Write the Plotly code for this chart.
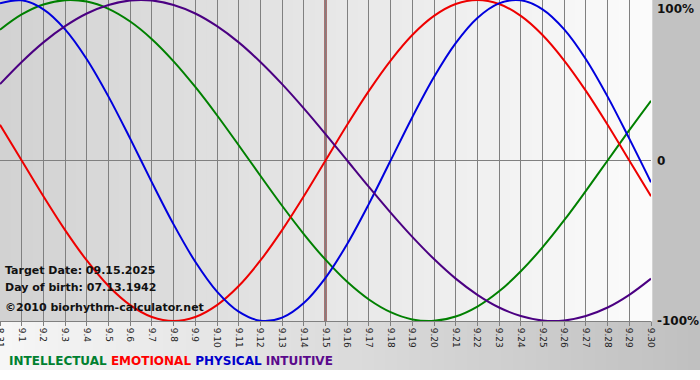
import plotly.graph_objects as go

# ---------------- data ----------------
day_labels = ["8.31"] + [f"9.{d}" for d in range(1, 31)]
target_label = "9.15"
target_date_text = "Target Date: 09.15.2025"
birth_date_text = "Day of birth: 07.13.1942"
copyright_text = "©2010 biorhythm-calculator.net"

intellectual = [0.815, 0.910, 0.972, 0.999, 0.990, 0.945, 0.866, 0.756, 0.618, 0.458,
                0.282, 0.095, -0.095, -0.282, -0.458, -0.618, -0.756, -0.866, -0.945, -0.990,
                -0.999, -0.972, -0.910, -0.815, -0.690, -0.541, -0.372, -0.189, 0.0, 0.189, 0.372]
emotional = [0.223, 0.0, -0.223, -0.434, -0.623, -0.782, -0.901, -0.975, -1.0, -0.975,
             -0.901, -0.782, -0.623, -0.434, -0.223, 0.0, 0.223, 0.434, 0.623, 0.782,
             0.901, 0.975, 1.0, 0.975, 0.901, 0.782, 0.623, 0.434, 0.223, 0.0, -0.223]
physical = [0.979, 0.998, 0.942, 0.817, 0.631, 0.398, 0.136, -0.136, -0.398, -0.631,
            -0.817, -0.942, -0.998, -0.979, -0.888, -0.731, -0.520, -0.270, 0.0, 0.270,
            0.520, 0.731, 0.888, 0.979, 0.998, 0.942, 0.817, 0.631, 0.398, 0.136, -0.136]
intuitive = [0.476, 0.614, 0.736, 0.837, 0.916, 0.969, 0.997, 0.997, 0.969, 0.916,
             0.837, 0.736, 0.614, 0.476, 0.325, 0.165, 0.0, -0.165, -0.325, -0.476,
             -0.614, -0.736, -0.837, -0.916, -0.969, -0.997, -0.997, -0.969, -0.916, -0.837, -0.736]

series_names = ["INTELLECTUAL", "EMOTIONAL", "PHYSICAL", "INTUITIVE"]
y_tick_vals = [1, 0, -1]
y_tick_text = ["100%", "0", "-100%"]

# ---------------- styles ----------------
line_colors = {"INTELLECTUAL": "#008000", "EMOTIONAL": "#ee0000",
               "PHYSICAL": "#0000dd", "INTUITIVE": "#4b0082"}
label_colors = {"INTELLECTUAL": "#008030", "EMOTIONAL": "#ff0000",
                "PHYSICAL": "#0000cc", "INTUITIVE": "#5a0a8c"}

W, H = 700, 380
ML, MR, MT, MB = 0, 49, 0, 59
PW, PH = W - ML - MR, H - MT - MB
FONT = "DejaVu Sans"

x = list(range(len(day_labels)))
values = {"INTELLECTUAL": intellectual, "EMOTIONAL": emotional,
          "PHYSICAL": physical, "INTUITIVE": intuitive}

fig = go.Figure()
for name in series_names:
    fig.add_trace(go.Scatter(
        x=x, y=values[name], mode="lines", name=name,
        line=dict(color=line_colors[name], width=2, shape="spline", smoothing=1.0),
        hoverinfo="skip", showlegend=False, cliponaxis=False))


def mix(c1, c2, t):
    return "#%02x%02x%02x" % tuple(round(a + (b - a) * t) for a, b in zip(c1, c2))


shapes = []
# plot area gradient (left gray -> right white)
N = 60
for i in range(N):
    t = i / (N - 1)
    shapes.append(dict(type="rect", xref="paper", yref="paper",
                       x0=i / N, x1=(i + 1) / N + 0.002, y0=0, y1=1,
                       fillcolor=mix((0xd2, 0xd2, 0xd2), (0xfb, 0xfb, 0xfb), t),
                       line=dict(width=0), layer="below"))
# bottom strip gradient (white -> gray)
yb0 = -(H - MT - PH - 10) / PH
for i in range(N):
    t = i / (N - 1)
    x0 = i / N * W / PW
    x1 = (i + 1) / N * W / PW + 0.002
    shapes.append(dict(type="rect", xref="paper", yref="paper",
                       x0=x0, x1=x1, y0=yb0, y1=0,
                       fillcolor=mix((0xf6, 0xf6, 0xf6), (0xc0, 0xc0, 0xc0), t),
                       line=dict(width=0), layer="below"))
shapes.append(dict(type="rect", xref="paper", yref="paper",
                   x0=0, x1=W / PW, y0=-MB / PH - 0.01, y1=yb0,
                   fillcolor="#ffffff", line=dict(width=0), layer="below"))
# target date marker
tx = day_labels.index(target_label)
shapes.append(dict(type="line", xref="x", yref="paper", x0=tx, x1=tx, y0=0, y1=1,
                   line=dict(color="#6a0000", width=2), layer="between"))

annotations = []
info_lines = [(target_date_text, 270), (birth_date_text, 287), (copyright_text, 307)]
for txt, ypix in info_lines:
    annotations.append(dict(text=txt, xref="paper", yref="paper",
                            x=3 / PW, y=1 - (ypix - MT) / PH,
                            xanchor="left", yanchor="middle", showarrow=False,
                            font=dict(family=FONT, size=11, color="#111111", weight="bold")))

legend_html = " ".join(f"<span style='color:{label_colors[n]}'>{n}</span>" for n in series_names)
annotations.append(dict(text=legend_html, xref="paper", yref="paper",
                        x=7 / PW, y=1 - (361 - MT) / PH, xanchor="left", yanchor="middle",
                        showarrow=False,
                        font=dict(family=FONT, size=12, weight="bold")))

for v, t in zip(y_tick_vals, y_tick_text):
    annotations.append(dict(text=t, xref="paper", yref="y", x=1 + 4 / PW, y=v,
                            xanchor="left",
                            yanchor="top" if v == 1 else "middle",
                            showarrow=False,
                            font=dict(family=FONT, size=12, color="#111111", weight="bold")))

fig.update_layout(
    width=W, height=H,
    margin=dict(l=ML, r=MR, t=MT, b=MB, pad=0, autoexpand=False),
    paper_bgcolor="#c2c2c2", plot_bgcolor="rgba(0,0,0,0)",
    shapes=shapes, annotations=annotations,
    showlegend=False,
    xaxis=dict(range=[0, len(day_labels) - 1], tickmode="array", tickvals=x,
               ticktext=day_labels, tickangle=90, showgrid=True, automargin=False,
               ticklabeloverflow="allow",
               gridcolor="#808080", gridwidth=1, zeroline=False,
               showline=True, linecolor="#808080", linewidth=1,
               ticks="outside", ticklen=4, tickcolor="#808080",
               tickfont=dict(family=FONT, size=9, color="#222222")),
    yaxis=dict(range=[-1, 1], showgrid=False, zeroline=True, automargin=False,
               zerolinecolor="#808080", zerolinewidth=1,
               showticklabels=False, ticks=""),
)

fig.write_html("out.html", config={"displayModeBar": False},
               post_script="document.body.style.margin='0';")
